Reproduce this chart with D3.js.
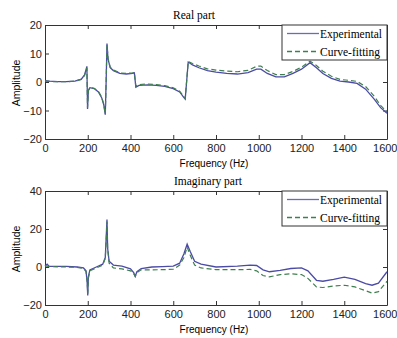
<!DOCTYPE html>
<html>
<head>
<meta charset="utf-8">
<script src="https://cdn.jsdelivr.net/npm/d3@7"></script>
<style>
  body { margin: 0; background: #fff; }
  svg { display: block; }
  .tick text { font-family: "Liberation Sans", Arial, sans-serif; font-size: 11px; fill: #222; }
  .tick line, .domain { stroke: #333; }
</style>
</head>
<body>
<svg id="chart"></svg>
<script>
// real part
const realFreq = [0, 20, 60, 100, 140, 170, 185, 196, 199, 203, 210, 230, 250, 265, 275, 282, 286, 290, 295, 305, 320, 350, 380, 410, 418, 425, 440, 480, 520, 560, 600, 630, 650, 656, 670, 690, 720, 760, 800, 850, 900, 950, 990, 1010, 1040, 1080, 1120, 1160, 1200, 1240, 1270, 1300, 1340, 1380, 1420, 1460, 1500, 1540, 1570, 1600];
const realExp  = [0.5, 0.3, 0.1, 0.1, 0.3, 1.0, 2.5, 5.5, -9.5, -3, -2, -2.3, -3.5, -5.5, -8, -11.5, 0, 13.5, 8, 5, 4, 3, 2.8, 3.0, 3.2, -1.8, -1.2, -1, -1.2, -1.5, -2.3, -3.5, -5.5, -6, 7, 6, 5, 4, 3.5, 3, 2.8, 3.3, 4.5, 4.5, 3, 1.8, 1.8, 3, 4.5, 6.8, 5, 3, 1.3, 0.3, 0, -0.5, -2.5, -6, -9, -11];
const realFit  = [0.3, 0.2, 0.1, 0.1, 0.3, 0.9, 2.3, 5.0, -9.0, -3, -2, -2.2, -3.3, -5.3, -7.8, -11.3, 0, 13.0, 8.3, 5.2, 4.2, 3.2, 3.0, 3.2, 3.4, -1.5, -0.9, -0.7, -0.9, -1.3, -2.0, -3.2, -5.2, -5.8, 7.2, 6.5, 5.6, 4.6, 4.2, 3.8, 3.6, 4.1, 5.5, 5.6, 4, 2.6, 2.6, 3.7, 5.2, 7.3, 5.8, 3.8, 2, 0.9, 0.6, 0.2, -1.6, -5, -8.2, -10.5];

// imaginary part
const imagFreq = [0, 10, 20, 100, 150, 180, 192, 197, 200, 203, 210, 240, 270, 282, 288, 290, 293, 300, 320, 360, 400, 415, 422, 430, 450, 500, 550, 600, 630, 650, 665, 680, 700, 730, 800, 900, 960, 990, 1020, 1050, 1100, 1150, 1200, 1230, 1270, 1300, 1350, 1400, 1450, 1500, 1530, 1560, 1600];
const imagExp  = [0.5, 1.5, 0.3, 0.3, 0, -0.5, -2, -8, -15, -5, -1.5, 0, 1.5, 5, 20, 25, 10, 3, 1, 0.5, -1, -3, -5, -2.5, -0.8, 0, 0.2, 0.5, 2, 7, 12, 8, 3, 1.5, 0, 0.5, 1, 0.8, -1.5, -2.5, -1.8, -0.8, -0.5, -2, -7, -7.5, -6.5, -5.3, -6.5, -8.8, -9.6, -8.5, -2.5];
const imagFit  = [0.5, 0.5, 0.2, 0, -0.2, -0.7, -2.5, -7, -14, -6, -2, -0.5, 1, 4.5, 18, 24, 10, 2, -0.5, -1, -2, -3.5, -5, -3, -1.5, -1.5, -1.4, -1.2, 1, 5, 10.5, 6, 1, -0.5, -1.4, -1.4, -1.3, -2, -4.5, -5.2, -4, -3.6, -4, -6, -10.5, -10.8, -10, -9.6, -10.5, -12.5, -13.7, -13, -7.5];

const xTicks = [0, 200, 400, 600, 800, 1000, 1200, 1400, 1600];
const realYTicks = [-20, -10, 0, 10, 20];
const imagYTicks = [-20, 0, 20, 40];
const seriesNames = ['Experimental', 'Curve-fitting'];

class FrfPanel {
    constructor (config, freq, exp, fit) {
        this.config = config;
        this.freq = freq;
        this.exp = exp;
        this.fit = fit;
        this.init();
    }

    init() {
        let self = this;
        const c = self.config;
        self.inner_width = c.right - c.left;
        self.inner_height = c.bottom - c.top;

        self.chart = c.svg.append('g')
            .attr('transform', `translate(${c.left}, ${c.top})`);

        self.xscale = d3.scaleLinear().domain([0, 1600]).range([0, self.inner_width]);
        self.yscale = d3.scaleLinear().domain(c.ydomain).range([self.inner_height, 0]);

        self.chart.append('rect')
            .attr('width', self.inner_width).attr('height', self.inner_height)
            .attr('fill', '#fff');

        // ticks inward on all four sides, like matlab
        const xaxis_group = self.chart.append('g')
            .attr('transform', `translate(0, ${self.inner_height})`)
            .call(d3.axisBottom(self.xscale).tickValues(xTicks).tickFormat(d3.format('d'))
                .tickSize(-4).tickSizeOuter(0).tickPadding(5));
        // last label hangs to the page edge
        xaxis_group.selectAll('.tick text')
            .filter(d => d == 1600)
            .attr('text-anchor', 'end')
            .attr('dx', 10);
        self.chart.append('g')
            .call(d3.axisTop(self.xscale).tickValues(xTicks).tickSize(-4).tickSizeOuter(0).tickFormat(''));
        self.chart.append('g')
            .call(d3.axisLeft(self.yscale).tickValues(c.yticks).tickSize(-4).tickSizeOuter(0).tickPadding(3));
        self.chart.append('g')
            .attr('transform', `translate(${self.inner_width}, 0)`)
            .call(d3.axisRight(self.yscale).tickValues(c.yticks).tickSize(-4).tickSizeOuter(0).tickFormat(''));

        self.render();

        c.svg.append('text')
            .attr('x', c.titleX).attr('y', c.top - 6)
            .attr('text-anchor', 'middle')
            .style('font-family', '"Liberation Serif", "Times New Roman", serif')
            .style('font-size', '11.5px')
            .text(c.title);

        c.svg.append('text')
            .attr('x', 214).attr('y', c.bottom + 28)
            .attr('text-anchor', 'middle')
            .style('font-family', '"Liberation Sans", Arial, sans-serif')
            .style('font-size', '10px')
            .text('Frequency (Hz)');

        c.svg.append('text')
            .attr('transform', `rotate(-90)`)
            .attr('x', -c.ylabelY).attr('y', 20)
            .attr('text-anchor', 'middle')
            .style('font-family', '"Liberation Sans", Arial, sans-serif')
            .style('font-size', '10.5px')
            .text('Amplitude');

        self.legend();
    }

    render() {
        let self = this;
        const line = d3.line()
            .x((d, i) => self.xscale(self.freq[i]))
            .y(d => self.yscale(d));

        self.chart.append('path')
            .datum(self.exp)
            .attr('fill', 'none')
            .attr('stroke', '#4b4ba6')
            .attr('stroke-width', 1.3)
            .attr('d', line);

        self.chart.append('path')
            .datum(self.fit)
            .attr('fill', 'none')
            .attr('stroke', '#3f7f4f')
            .attr('stroke-width', 1.2)
            .attr('stroke-dasharray', '5,3')
            .attr('d', line);
    }

    legend() {
        let self = this;
        const w = 105, h = 35;
        const g = self.chart.append('g')
            .attr('transform', `translate(${self.inner_width - w}, 0)`);
        g.append('rect')
            .attr('width', w).attr('height', h)
            .attr('fill', '#fff').attr('stroke', '#333');
        seriesNames.forEach((name, i) => {
            const y = 8.5 + i * 18;
            g.append('line')
                .attr('x1', 5).attr('x2', 37).attr('y1', y).attr('y2', y)
                .attr('stroke', i == 0 ? '#6a6ab8' : '#3f7f4f')
                .attr('stroke-width', 1.3)
                .attr('stroke-dasharray', i == 0 ? null : '5,3');
            g.append('text')
                .attr('x', 38).attr('y', y + 4)
                .style('font-family', '"Liberation Serif", "Times New Roman", serif')
                .style('font-size', '11.5px')
                .text(name);
        });
    }
}

const svg = d3.select('#chart').attr('width', 397).attr('height', 338);

new FrfPanel({svg: svg, left: 45, right: 387, top: 25, bottom: 139,
    ydomain: [-20, 20], yticks: realYTicks, title: 'Real part', titleX: 194, ylabelY: 83},
    realFreq, realExp, realFit);

new FrfPanel({svg: svg, left: 45, right: 387, top: 191, bottom: 305,
    ydomain: [-20, 40], yticks: imagYTicks, title: 'Imaginary part', titleX: 208, ylabelY: 249},
    imagFreq, imagExp, imagFit);
</script>
</body>
</html>
